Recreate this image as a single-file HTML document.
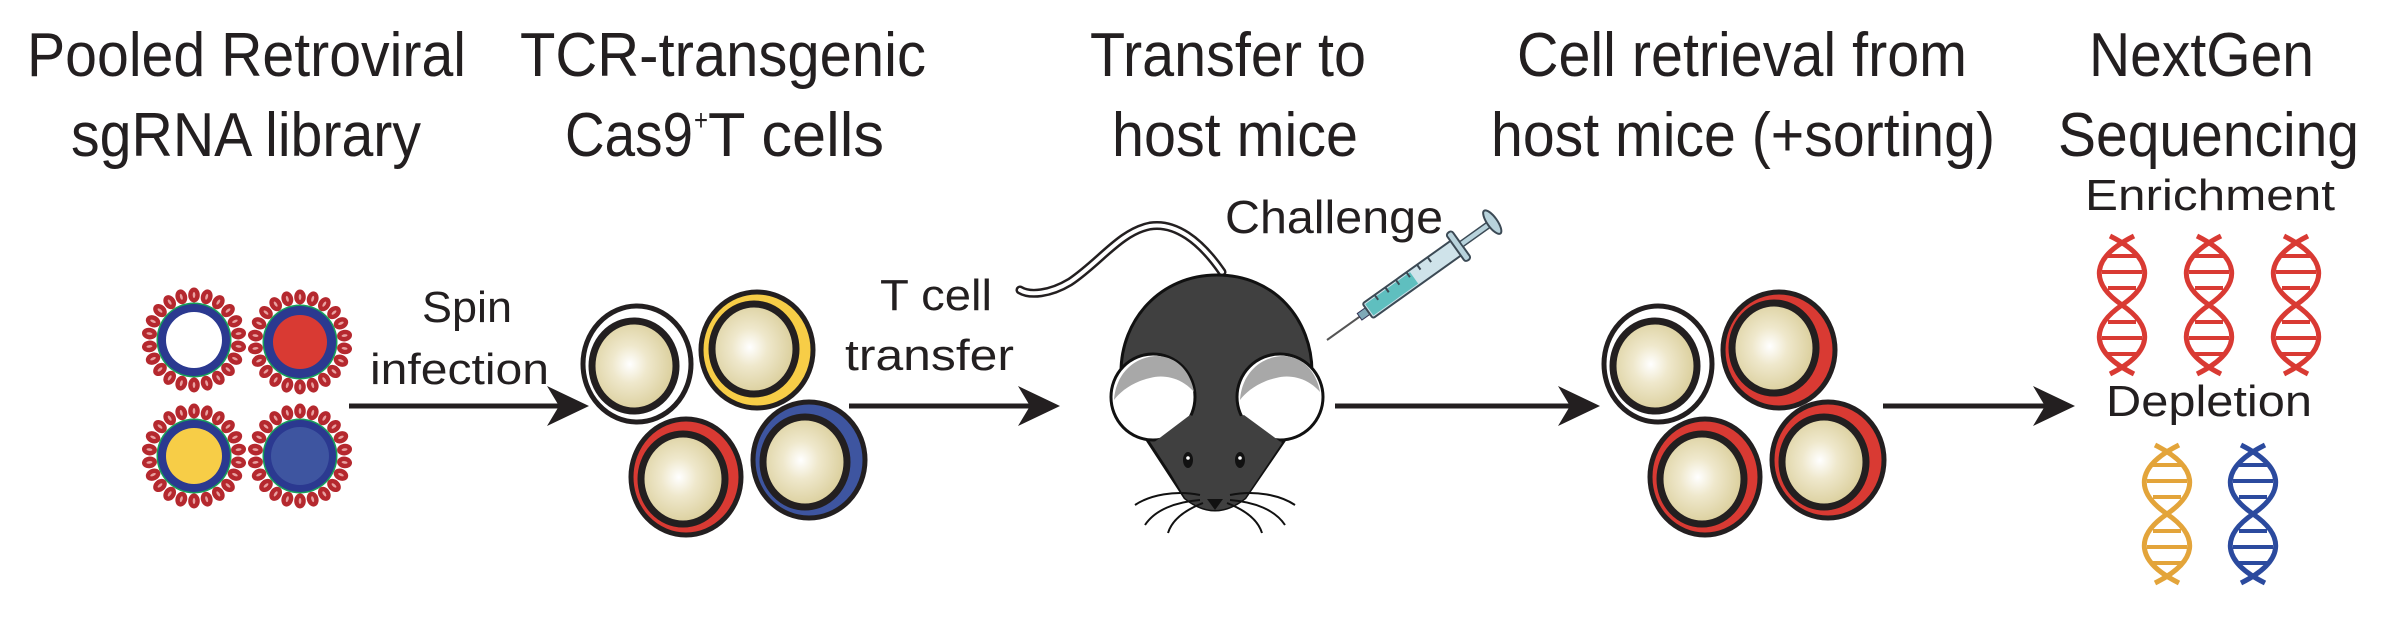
<!DOCTYPE html>
<html><head><meta charset="utf-8"><style>
html,body{margin:0;padding:0;background:#fff;}
svg{display:block;}
text{font-family:"Liberation Sans",Arial,sans-serif;fill:#231f20;}
</style></head><body>
<svg width="2382" height="628" viewBox="0 0 2382 628" xmlns="http://www.w3.org/2000/svg">
<defs>
  <radialGradient id="cyto" cx="45%" cy="48%" r="60%">
    <stop offset="0" stop-color="#ffffff"/>
    <stop offset="0.35" stop-color="#efe8cc"/>
    <stop offset="1" stop-color="#d6c991"/>
  </radialGradient>
  <g id="sp"><ellipse cx="0" cy="-45" rx="5.8" ry="7.5" fill="#b5282e"/><ellipse cx="0" cy="-45" rx="1.3" ry="3" fill="#e8a0a0"/></g>
  <g id="spikes">
    <use href="#sp" transform="rotate(0)"/><use href="#sp" transform="rotate(16.36)"/><use href="#sp" transform="rotate(32.73)"/><use href="#sp" transform="rotate(49.09)"/><use href="#sp" transform="rotate(65.45)"/><use href="#sp" transform="rotate(81.82)"/><use href="#sp" transform="rotate(98.18)"/><use href="#sp" transform="rotate(114.55)"/><use href="#sp" transform="rotate(130.91)"/><use href="#sp" transform="rotate(147.27)"/><use href="#sp" transform="rotate(163.64)"/><use href="#sp" transform="rotate(180)"/><use href="#sp" transform="rotate(196.36)"/><use href="#sp" transform="rotate(212.73)"/><use href="#sp" transform="rotate(229.09)"/><use href="#sp" transform="rotate(245.45)"/><use href="#sp" transform="rotate(261.82)"/><use href="#sp" transform="rotate(278.18)"/><use href="#sp" transform="rotate(294.55)"/><use href="#sp" transform="rotate(310.91)"/><use href="#sp" transform="rotate(327.27)"/><use href="#sp" transform="rotate(343.64)"/>
    <circle r="37.5" fill="#16a05a"/>
    <circle r="36" fill="#2b3990"/>
  </g>
  <g id="dna" fill="none" stroke="currentColor" stroke-width="5">
    <path d="M-12,0 C32,22 32,47 0,69 C-32,91 -32,116 12,138"/>
    <path d="M12,0 C-32,22 -32,47 0,69 C32,91 32,116 -12,138"/>
    <path d="M-15,20 H15 M-20,36 H20 M-14,52 H14 M-14,86 H14 M-20,102 H20 M-15,118 H15" stroke-width="4"/>
  </g>
  <g id="arrowhead"><path d="M0,0 L-42,-20 L-30,0 L-42,20 Z" fill="#231f20"/></g>
</defs>

<g font-size="62">
  <text x="27" y="76" textLength="439" lengthAdjust="spacingAndGlyphs">Pooled Retroviral</text>
  <text x="71" y="156" textLength="350" lengthAdjust="spacingAndGlyphs">sgRNA library</text>
  <text x="520" y="76" textLength="406" lengthAdjust="spacingAndGlyphs">TCR-transgenic</text>
  <text x="565" y="156" textLength="128" lengthAdjust="spacingAndGlyphs">Cas9</text>
  <text x="694" y="130" font-size="30" textLength="14" lengthAdjust="spacingAndGlyphs">+</text>
  <text x="708" y="156" textLength="176" lengthAdjust="spacingAndGlyphs">T cells</text>
  <text x="1090" y="76" textLength="276" lengthAdjust="spacingAndGlyphs">Transfer to</text>
  <text x="1112" y="156" textLength="246" lengthAdjust="spacingAndGlyphs">host mice</text>
  <text x="1517" y="76" textLength="450" lengthAdjust="spacingAndGlyphs">Cell retrieval from</text>
  <text x="1491" y="156" textLength="504" lengthAdjust="spacingAndGlyphs">host mice (+sorting)</text>
  <text x="2089" y="76" textLength="225" lengthAdjust="spacingAndGlyphs">NextGen</text>
  <text x="2058" y="156" textLength="301" lengthAdjust="spacingAndGlyphs">Sequencing</text>
</g>

<g transform="translate(194,340)"><use href="#spikes"/><circle r="28" fill="#ffffff"/></g>
<g transform="translate(300,342)"><use href="#spikes"/><circle r="27" fill="#d93a33"/></g>
<g transform="translate(194,456)"><use href="#spikes"/><circle r="28" fill="#f7cd47"/></g>
<g transform="translate(300,456)"><use href="#spikes"/><circle r="29" fill="#3e55a0"/></g>

<g font-size="44">
  <text x="422" y="322" textLength="90" lengthAdjust="spacingAndGlyphs">Spin</text>
  <text x="370" y="384" textLength="179" lengthAdjust="spacingAndGlyphs">infection</text>
</g>
<line x1="349" y1="406" x2="560" y2="406" stroke="#231f20" stroke-width="5"/>
<use href="#arrowhead" x="589" y="406"/>

<g stroke="#231f20">
  <ellipse cx="637" cy="364" rx="54" ry="58" fill="#fff" stroke-width="5"/>
  <ellipse cx="634" cy="366" rx="42" ry="45" fill="url(#cyto)" stroke-width="7"/>
  <ellipse cx="757" cy="350" rx="56" ry="58" fill="#f7cd47" stroke-width="5"/>
  <ellipse cx="754" cy="349" rx="42" ry="45" fill="url(#cyto)" stroke-width="7"/>
  <ellipse cx="686" cy="477" rx="55" ry="58" fill="#d93a33" stroke-width="5"/>
  <ellipse cx="683" cy="479" rx="42" ry="45" fill="url(#cyto)" stroke-width="7"/>
  <ellipse cx="809" cy="460" rx="56" ry="58" fill="#3e55a0" stroke-width="5"/>
  <ellipse cx="805" cy="462" rx="42" ry="45" fill="url(#cyto)" stroke-width="7"/>
</g>

<g font-size="44">
  <text x="880" y="310" textLength="112" lengthAdjust="spacingAndGlyphs">T cell</text>
  <text x="845" y="370" textLength="169" lengthAdjust="spacingAndGlyphs">transfer</text>
</g>
<line x1="849" y1="406" x2="1032" y2="406" stroke="#231f20" stroke-width="5"/>
<use href="#arrowhead" x="1060" y="406"/>

<path d="M1222,272 C1200,240 1175,222 1150,226 C1120,232 1100,262 1070,282 C1050,294 1030,296 1020,290" fill="none" stroke="#231f20" stroke-width="9" stroke-linecap="round"/>
<path d="M1222,272 C1200,240 1175,222 1150,226 C1120,232 1100,262 1070,282 C1050,294 1030,296 1020,290" fill="none" stroke="#fff" stroke-width="4" stroke-linecap="round"/>
<path d="M1217,275 C1275,275 1312,320 1312,372 L1312,400 L1245,498 Q1215,522 1185,498 L1121,400 L1121,372 C1121,320 1160,275 1217,275 Z" fill="#404040" stroke="#111" stroke-width="3"/>
<ellipse cx="1153" cy="397" rx="42" ry="43" fill="#fff" stroke="#111" stroke-width="3"/>
<path d="M1114,400 C1116,372 1136,356 1158,356 C1176,357 1190,370 1194,392 C1182,378 1164,374 1150,378 C1132,382 1120,392 1114,400 Z" fill="#a8a8a8"/>
<ellipse cx="1280" cy="397" rx="43" ry="43" fill="#fff" stroke="#111" stroke-width="3"/>
<path d="M1240,400 C1242,372 1262,356 1284,356 C1302,357 1316,370 1320,392 C1308,378 1290,374 1276,378 C1258,382 1246,392 1240,400 Z" fill="#a8a8a8"/>
<path d="M1153,443 L1190,415 L1215,425 L1244,415 L1282,443 L1245,498 Q1215,522 1185,498 Z" fill="#404040"/>
<ellipse cx="1188" cy="460" rx="5" ry="8" fill="#111"/><circle cx="1188" cy="458" r="1.8" fill="#fff"/>
<ellipse cx="1240" cy="460" rx="5" ry="8" fill="#111"/><circle cx="1240" cy="458" r="1.8" fill="#fff"/>
<path d="M1207,499 L1223,499 L1215,510 Z" fill="#111"/>
<g stroke="#111" stroke-width="2" fill="none">
  <path d="M1200,495 C1175,490 1150,495 1135,505"/><path d="M1200,500 C1175,502 1155,510 1145,525"/><path d="M1203,503 C1185,510 1172,520 1168,533"/>
  <path d="M1230,495 C1255,490 1280,495 1295,505"/><path d="M1230,500 C1255,502 1275,510 1285,525"/><path d="M1227,503 C1245,510 1258,520 1262,533"/>
</g>

<text x="1225" y="233" font-size="46" textLength="218" lengthAdjust="spacingAndGlyphs">Challenge</text>
<g transform="translate(1327,340) rotate(-35.5)">
  <line x1="0" y1="0" x2="45" y2="0" stroke="#555" stroke-width="2"/>
  <rect x="40" y="-4" width="10" height="8" fill="#7fa9b8" stroke="#335" stroke-width="1"/>
  <rect x="50" y="-9" width="110" height="18" rx="2" fill="#cfe3ea" stroke="#3c4a55" stroke-width="2"/>
  <rect x="52" y="-7" width="55" height="14" fill="#5fbfbf"/>
  <path d="M65,-9 v6 M78,-9 v6 M91,-9 v6 M104,-9 v6 M117,-9 v6 M130,-9 v6" stroke="#3c4a55" stroke-width="2"/>
  <rect x="158" y="-17" width="7" height="34" rx="3" fill="#b8d3dc" stroke="#3c4a55" stroke-width="2"/>
  <rect x="165" y="-3" width="35" height="6" fill="#b8d3dc" stroke="#3c4a55" stroke-width="1.5"/>
  <ellipse cx="203" cy="0" rx="5" ry="14" fill="#b8d3dc" stroke="#3c4a55" stroke-width="2"/>
</g>

<line x1="1335" y1="406" x2="1572" y2="406" stroke="#231f20" stroke-width="5"/>
<use href="#arrowhead" x="1600" y="406"/>

<g stroke="#231f20">
  <ellipse cx="1658" cy="364" rx="54" ry="58" fill="#fff" stroke-width="5"/>
  <ellipse cx="1655" cy="366" rx="42" ry="45" fill="url(#cyto)" stroke-width="7"/>
  <ellipse cx="1779" cy="350" rx="56" ry="58" fill="#d93a33" stroke-width="5"/>
  <ellipse cx="1774" cy="348" rx="42" ry="45" fill="url(#cyto)" stroke-width="7"/>
  <ellipse cx="1705" cy="477" rx="55" ry="58" fill="#d93a33" stroke-width="5"/>
  <ellipse cx="1702" cy="479" rx="42" ry="45" fill="url(#cyto)" stroke-width="7"/>
  <ellipse cx="1828" cy="460" rx="56" ry="58" fill="#d93a33" stroke-width="5"/>
  <ellipse cx="1824" cy="462" rx="42" ry="45" fill="url(#cyto)" stroke-width="7"/>
</g>

<line x1="1883" y1="406" x2="2047" y2="406" stroke="#231f20" stroke-width="5"/>
<use href="#arrowhead" x="2075" y="406"/>

<text x="2085" y="210" font-size="44" textLength="250" lengthAdjust="spacingAndGlyphs">Enrichment</text>
<g color="#d93a33">
  <use href="#dna" transform="translate(2122,236)"/>
  <use href="#dna" transform="translate(2209,236)"/>
  <use href="#dna" transform="translate(2296,236)"/>
</g>
<text x="2106" y="416" font-size="44" textLength="206" lengthAdjust="spacingAndGlyphs">Depletion</text>
<use href="#dna" transform="translate(2167,445)" color="#e3a43a"/>
<use href="#dna" transform="translate(2253,445)" color="#2b4a9e"/>
</svg>
</body></html>
